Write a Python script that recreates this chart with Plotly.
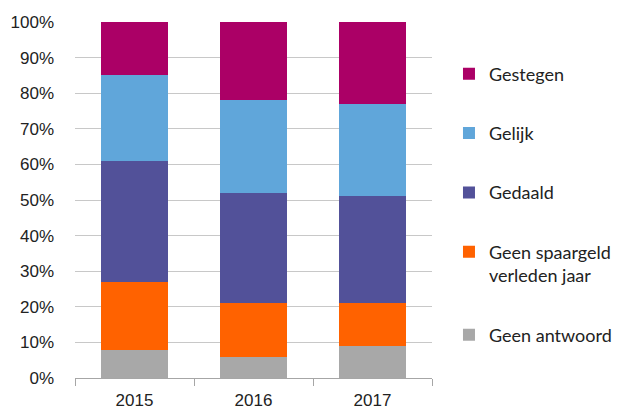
import plotly.graph_objects as go

years = ["2015", "2016", "2017"]
geen_antwoord = [8, 6, 9]
geen_spaargeld = [19, 15, 12]
gedaald = [34, 31, 30]
gelijk = [24, 26, 26]
gestegen = [15, 22, 23]

series = [
    ("Geen antwoord", geen_antwoord, "#A8A8A8"),
    ("Geen spaargeld<br>verleden jaar", geen_spaargeld, "#FF6200"),
    ("Gedaald", gedaald, "#525199"),
    ("Gelijk", gelijk, "#60A6DA"),
    ("Gestegen", gestegen, "#AB0066"),
]

fig = go.Figure()
for i, (name, vals, col) in enumerate(series):
    fig.add_trace(go.Bar(
        x=years, y=vals, name=name, legendgroup=name,
        legendrank=len(series) - i,
        marker=dict(color=col, line=dict(width=0)),
    ))

fig.update_layout(
    width=621, height=410,
    barmode="stack", bargap=0.445,
    plot_bgcolor="white", paper_bgcolor="white",
    margin=dict(l=75, r=189, t=22, b=32),
    font=dict(family="Lato, Liberation Sans, sans-serif", size=16, color="#222"),
    showlegend=True,
    legend=dict(
        xref="container",
        x=0.723, y=0.906, xanchor="left", yanchor="top",
        traceorder="grouped", tracegroupgap=33,
        font=dict(family="Lato, sans-serif", size=18, color="#222"),
        valign="top",
    ),
)
fig.update_xaxes(
    automargin=False,
    showline=True, linecolor="#A6A6A6", linewidth=1,
    ticks="outside", tickson="boundaries", ticklen=7, tickcolor="#A6A6A6",
    tickfont=dict(family="Liberation Sans, sans-serif", size=17, color="#222"),
    ticklabelstandoff=7,
    showgrid=False,
)
fig.update_yaxes(
    automargin=False,
    range=[0, 100], dtick=10, ticksuffix="%",
    showgrid=True, gridcolor="#C8C8C8", gridwidth=1,
    zeroline=False, showline=False,
    tickfont=dict(family="Liberation Sans, sans-serif", size=17, color="#222"),
    ticks="", ticklabelstandoff=20,
)
fig.write_html(
    "out.html",
    config={"displayModeBar": False},
    post_script="document.body.style.margin='0';document.body.style.overflow='hidden';",
)
